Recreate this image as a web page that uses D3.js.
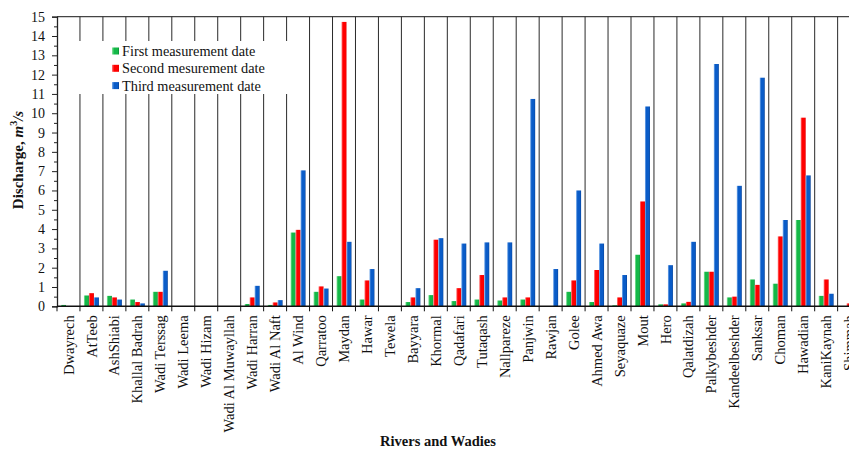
<!DOCTYPE html>
<html>
<head>
<meta charset="utf-8">
<script src="https://cdn.jsdelivr.net/npm/d3@7/dist/d3.min.js"></script>
<style>
  html, body { margin: 0; padding: 0; background: #fff; }
  svg { display: block; font-family: "Liberation Serif", "Times New Roman", serif; }
</style>
</head>
<body>
<svg id="chart" width="849" height="450"></svg>
<script>
// Discharge measured at three dates for each river / wadi (m3/s)
const categories = ["Dwayrech","AtTeeb","AshShiabi","Khallal Badrah","Wadi Terssag","Wadi Leema","Wadi Hizam",
  "Wadi Al Muwayllah","Wadi Harran","Wadi Al Naft","Al Wind","Qarratoo","Maydan","Hawar","Tewela","Bayyara",
  "Khormal","Qadafari","Tutaqash","Nallpareze","Panjwin","Rawjan","Golee","Ahmed Awa","Seyaquaze","Mout","Hero",
  "Qalatdizah","Palkybeshder","Kandeelbeshder","Sanksar","Choman","Hawadian","KaniKaynah","Shimmah"];

const firstDate  = [0.07,0.56,0.54,0.35,0.75,0,0,0,0.12,0.07,3.82,0.75,1.56,0.35,0,0.22,0.58,0.27,0.35,0.30,
  0.35,0,0.75,0.22,0.05,2.67,0.10,0.15,1.79,0.46,1.39,1.17,4.47,0.54,0];
const secondDate = [0,0.68,0.46,0.22,0.75,0,0,0,0.46,0.20,3.96,1.03,14.73,1.34,0,0.46,3.45,0.94,1.62,0.46,
  0.46,0,1.34,1.88,0.46,5.43,0.10,0.23,1.79,0.50,1.11,3.62,9.77,1.39,0.15];
const thirdDate  = [0,0.46,0.35,0.15,1.84,0,0,0,1.06,0.32,7.04,0.92,3.34,1.93,0,0.94,3.53,3.25,3.31,3.31,
  10.74,1.93,6.00,3.25,1.62,10.35,2.13,3.34,12.55,6.24,11.84,4.47,6.78,0.65,0.20];

const seriesNames = ["First measurement date", "Second mesurement date", "Third measurement date"];
const yTicks = d3.range(0, 16, 1);

const seriesColors = [
  { id: "gGreen", light: "#8fe6a2", base: "#14b848", dark: "#0a8a32" },
  { id: "gRed",   light: "#ff8080", base: "#ff0000", dark: "#e00000" },
  { id: "gBlue",  light: "#7fb0ec", base: "#0a5cc8", dark: "#063f92" }
];

const seriesData = [firstDate, secondDate, thirdDate];

const svg = d3.select("#chart");
const plotLeft = 57, plotTop = 16.7, plotBottom = 306.3;
const step = 22.96;
const plotRight = plotLeft + step * categories.length;

// gradients giving bars a soft bevelled look
const defs = svg.append("defs");
seriesColors.forEach(c => {
  const g = defs.append("linearGradient").attr("id", c.id).attr("x1", "0").attr("x2", "1").attr("y1", "0").attr("y2", "0");
  g.append("stop").attr("offset", "0%").attr("stop-color", c.light);
  g.append("stop").attr("offset", "30%").attr("stop-color", c.base);
  g.append("stop").attr("offset", "80%").attr("stop-color", c.base);
  g.append("stop").attr("offset", "100%").attr("stop-color", c.dark);
});

const x0 = d3.scaleBand().domain(categories).range([plotLeft, plotRight]).paddingInner(0).paddingOuter(0);
const x1 = d3.scaleBand().domain(d3.range(3)).range([0, x0.bandwidth()]).paddingInner(0).paddingOuter(0.8);
const y = d3.scaleLinear().domain([0, 15]).range([plotBottom, plotTop]);

// plot frame: top border and category separators
svg.append("line").attr("x1", plotLeft).attr("x2", plotRight).attr("y1", plotTop).attr("y2", plotTop)
  .attr("stroke", "#444").attr("stroke-width", 1.3);
svg.append("line").attr("x1", plotRight).attr("x2", plotRight).attr("y1", plotTop).attr("y2", plotBottom)
  .attr("stroke", "#333");
svg.append("g").selectAll("line").data(categories.slice(1)).join("line")
  .attr("x1", d => x0(d)).attr("x2", d => x0(d))
  .attr("y1", plotTop).attr("y2", plotBottom)
  .attr("stroke", "#2a2a2a").attr("stroke-width", 1);

// bars
const groups = svg.append("g").selectAll("g").data(categories).join("g")
  .attr("transform", d => `translate(${x0(d)},0)`);
groups.selectAll("rect")
  .data((d, i) => seriesData.map((s, k) => ({ k, v: s[i] })))
  .join("rect")
  .attr("x", d => x1(d.k))
  .attr("width", x1.bandwidth())
  .attr("y", d => y(d.v))
  .attr("height", d => y(0) - y(d.v))
  .attr("fill", d => `url(#${seriesColors[d.k].id})`);

// y axis with major and minor ticks
const yAxis = svg.append("g").attr("transform", `translate(${plotLeft},0)`)
  .call(d3.axisLeft(y).tickValues(yTicks).tickSize(5).tickPadding(7).tickFormat(d3.format("d")));
yAxis.select(".domain").attr("stroke", "#222").attr("stroke-width", 1.3);
yAxis.selectAll(".tick line").attr("stroke", "#222");
yAxis.selectAll("text").attr("font-size", 14).attr("fill", "#111")
  .attr("font-family", "'Liberation Serif', 'Times New Roman', serif");
svg.append("g").attr("transform", `translate(${plotLeft},0)`)
  .call(d3.axisLeft(y).tickValues(d3.range(0.5, 15, 1)).tickSize(3).tickFormat(""))
  .call(g => g.select(".domain").remove())
  .selectAll(".tick line").attr("stroke", "#222");

// x axis with ticks on category boundaries
svg.append("line").attr("x1", plotLeft).attr("x2", plotRight).attr("y1", plotBottom).attr("y2", plotBottom)
  .attr("stroke", "#111").attr("stroke-width", 1.6);
svg.append("g").selectAll("line").data(d3.range(categories.length + 1)).join("line")
  .attr("x1", i => plotLeft + i * x0.step()).attr("x2", i => plotLeft + i * x0.step())
  .attr("y1", plotBottom).attr("y2", plotBottom + 5)
  .attr("stroke", "#111");

svg.append("g").selectAll("text").data(categories).join("text")
  .attr("transform", d => `translate(${x0(d) + x0.bandwidth() / 2},${plotBottom + 9}) rotate(-90)`)
  .attr("text-anchor", "end")
  .attr("dy", "0.35em")
  .attr("font-size", 14.5)
  .attr("fill", "#111")
  .text(d => d);

// axis titles
svg.append("text")
  .attr("x", 438).attr("y", 446)
  .attr("text-anchor", "middle")
  .attr("font-size", 14.5).attr("font-weight", "bold").attr("fill", "#111")
  .text("Rivers and Wadies");

const yTitle = svg.append("text")
  .attr("transform", "translate(23,160) rotate(-90)")
  .attr("text-anchor", "middle")
  .attr("font-size", 15).attr("font-weight", "bold").attr("fill", "#111");
yTitle.append("tspan").text("Discharge, ");
yTitle.append("tspan").attr("font-style", "italic").text("m");
yTitle.append("tspan").attr("font-size", 10).attr("dy", -6).text("3");
yTitle.append("tspan").attr("dy", 6).attr("font-style", "italic").text("/s");

// legend on a white panel over the separators
const legend = svg.append("g");
legend.append("rect").attr("x", 62).attr("y", 41).attr("width", 236).attr("height", 53).attr("fill", "#fff");
const rows = legend.selectAll("g").data(seriesNames).join("g")
  .attr("transform", (d, i) => `translate(112,${51 + i * 17.3})`);
rows.append("rect").attr("x", 0).attr("y", -3.5).attr("width", 7).attr("height", 7)
  .attr("fill", (d, i) => `url(#${seriesColors[i].id})`);
rows.append("text").attr("x", 10).attr("dy", "0.35em")
  .attr("font-size", 14.3).attr("fill", "#111")
  .text(d => d);
</script>
</body>
</html>
